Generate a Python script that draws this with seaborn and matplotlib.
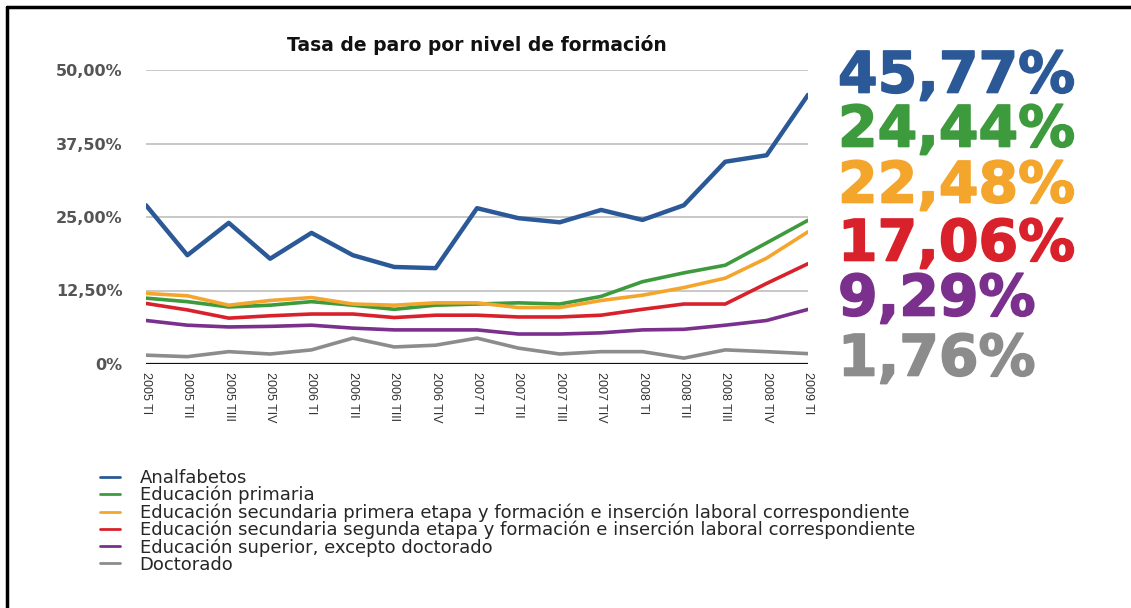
import numpy as np
import pandas as pd
import seaborn as sns
import matplotlib.pyplot as plt
import matplotlib.patheffects as pe
from matplotlib.lines import Line2D

# quarters on the x axis
quarters = ['2005 TI', '2005 TII', '2005 TIII', '2005 TIV',
            '2006 TI', '2006 TII', '2006 TIII', '2006 TIV',
            '2007 TI', '2007 TII', '2007 TIII', '2007 TIV',
            '2008 TI', '2008 TII', '2008 TIII', '2008 TIV',
            '2009 TI']

series_names = ['Analfabetos',
                'Educación primaria',
                'Educación secundaria primera etapa y formación e inserción laboral correspondiente',
                'Educación secundaria segunda etapa y formación e inserción laboral correspondiente',
                'Educación superior, excepto doctorado',
                'Doctorado']

analfabetos = [27.0, 18.5, 24.0, 17.9, 22.3, 18.5, 16.5, 16.3, 26.5, 24.8, 24.1, 26.2, 24.5, 27.0, 34.4, 35.5, 45.77]
primaria = [11.2, 10.6, 9.7, 10.0, 10.6, 10.0, 9.3, 10.0, 10.2, 10.4, 10.2, 11.5, 14.0, 15.5, 16.8, 20.6, 24.44]
sec_primera = [12.0, 11.6, 10.0, 10.8, 11.3, 10.2, 10.0, 10.4, 10.4, 9.6, 9.6, 10.8, 11.7, 13.0, 14.6, 18.0, 22.48]
sec_segunda = [10.3, 9.2, 7.8, 8.2, 8.5, 8.5, 7.9, 8.3, 8.3, 8.0, 8.0, 8.3, 9.3, 10.2, 10.2, 13.7, 17.06]
superior = [7.4, 6.6, 6.3, 6.4, 6.6, 6.1, 5.8, 5.8, 5.8, 5.1, 5.1, 5.3, 5.8, 5.9, 6.6, 7.4, 9.29]
doctorado = [1.5, 1.25, 2.1, 1.7, 2.4, 4.4, 2.9, 3.2, 4.4, 2.7, 1.7, 2.1, 2.1, 1.0, 2.4, 2.1, 1.76]

colors = ['#2b5897', '#3d9a3d', '#f4a52c', '#d9212b', '#7a308c', '#8c8c8c']

all_values = [analfabetos, primaria, sec_primera, sec_segunda, superior, doctorado]
rows = []
for name, vals in zip(series_names, all_values):
    for i, v in enumerate(vals):
        rows.append({'x': i, 'valor': v, 'serie': name})
df = pd.DataFrame(rows)

sns.set_style('white')
fig = plt.figure(figsize=(11.31, 6.08), dpi=100)
ax = fig.add_axes([146 / 1131, 1 - 364 / 608, (808 - 146) / 1131, (364 - 70) / 608])

sns.lineplot(data=df, x='x', y='valor', hue='serie', palette=colors,
             hue_order=series_names, linewidth=2.6, legend=False, ax=ax)
ax.lines[0].set_linewidth(3.2)

ax.set_xlim(0, 16)
ax.set_ylim(0, 50)
ax.set_yticks([0, 12.5, 25, 37.5, 50])
ax.set_yticklabels(['0%', '12,50%', '25,00%', '37,50%', '50,00%'],
                   fontweight='bold', color='#555555', fontsize=11.5)
ax.set_xticks(range(len(quarters)))
ax.set_xticklabels(quarters, rotation=270, ha='center', va='top',
                   fontsize=9, color='#333333', family='Liberation Sans')
ax.tick_params(axis='both', length=0)
ax.tick_params(axis='y', pad=17)
ax.tick_params(axis='x', pad=6)
ax.set_xlabel('')
ax.set_ylabel('')
for y in [12.5, 25, 37.5, 50]:
    ax.axhline(y, color='#c8c8c8', lw=1.4, zorder=0)
ax.axhline(0, color='#111111', lw=1.6, zorder=3)
for s in ax.spines.values():
    s.set_visible(False)

ax.set_title('Tasa de paro por nivel de formación', fontweight='bold',
             fontsize=13.5, pad=14, color='#111111')

# big final values on the right
label_y = [77, 131, 187, 245, 300, 360]
for vals, c, yp in zip(all_values, colors, label_y):
    txt = f'{vals[-1]:.2f}'.replace('.', ',') + '%'
    fig.text(838 / 1131, 1 - yp / 608, txt, color=c, fontsize=41,
             fontweight='heavy', va='center', ha='left',
             path_effects=[pe.withStroke(linewidth=1.2, foreground=c)])

# legend below
handles = [Line2D([0], [0], color=c, lw=2) for c in colors]
fig.legend(handles, series_names, loc='upper left',
           bbox_to_anchor=(100 / 1131, 1 - 469 / 608), frameon=False,
           fontsize=13, handlelength=1.1, handletextpad=1.1,
           labelspacing=-0.06, borderpad=0, borderaxespad=0)

# frame at top and left
fig.add_artist(Line2D([7 / 1131, 7 / 1131], [0, 1 - 7 / 608], color='black', lw=2.5))
fig.add_artist(Line2D([7 / 1131, 1], [1 - 7 / 608, 1 - 7 / 608], color='black', lw=2.5))

fig.savefig('out.png', dpi=100, facecolor='white')
